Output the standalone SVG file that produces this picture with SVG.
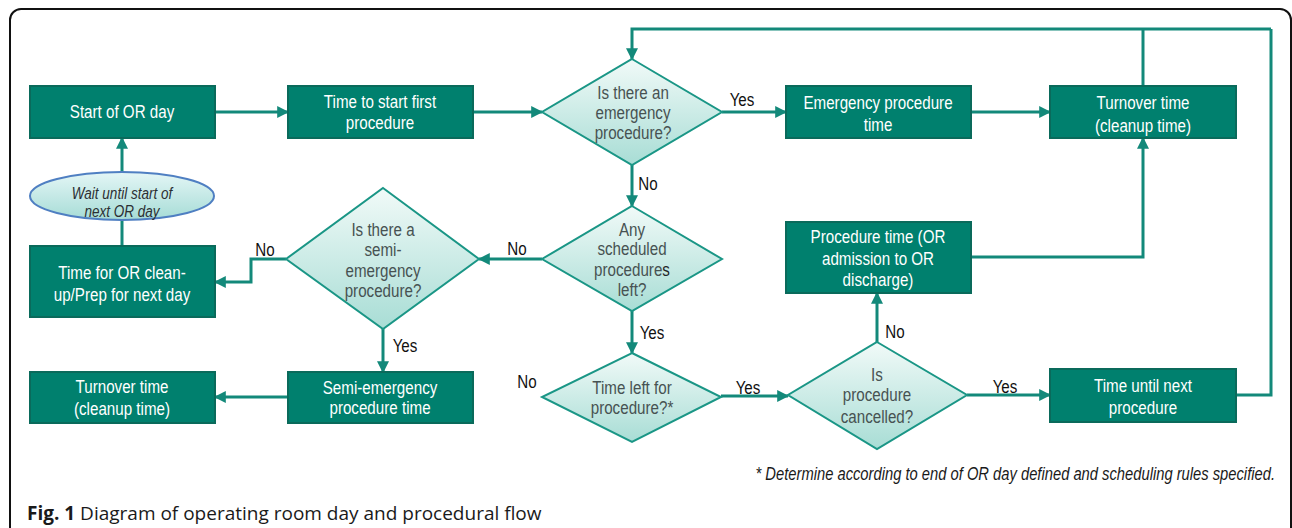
<svg xmlns="http://www.w3.org/2000/svg" width="1292" height="528" viewBox="0 0 1292 528">
<defs>
  <linearGradient id="dg" x1="0" y1="0" x2="0" y2="1">
    <stop offset="0" stop-color="#f1faf8"/>
    <stop offset="1" stop-color="#a8ddd5"/>
  </linearGradient>
  <linearGradient id="eg" x1="0" y1="0" x2="0" y2="1">
    <stop offset="0" stop-color="#e4f6f6"/>
    <stop offset="1" stop-color="#a6dcd6"/>
  </linearGradient>
  <marker id="ah" viewBox="0 0 10 10" refX="9" refY="5" markerWidth="4" markerHeight="4" orient="auto" markerUnits="strokeWidth">
    <path d="M0,0 L10,5 L0,10 z" fill="#13897a"/>
  </marker>
  <style>
    .box{fill:#00806e;stroke:#0a6a5b;stroke-width:2}
    .dia{fill:url(#dg);stroke:#1a9686;stroke-width:2}
    .ell{fill:url(#eg);stroke:#4f7fc2;stroke-width:2}
    text{font-family:"Liberation Sans","Arial",sans-serif}
    .bt{font-size:18.5px;fill:#ffffff;text-anchor:middle}
    .dt{font-size:18.5px;fill:#475252;text-anchor:middle}
    .et{font-size:16.5px;font-style:italic;fill:#2b2f33;text-anchor:middle}
    .lb{font-size:18.5px;fill:#111111;text-anchor:middle}
    .fn{font-size:17px;font-style:italic;fill:#1a1a1a;text-anchor:end}
    .cap{font-family:"Open Sans","Noto Sans",sans-serif;font-size:19px;fill:#1a1a1a}
    .c{fill:none;stroke:#13897a;stroke-width:3}
    .ca{fill:none;stroke:#13897a;stroke-width:3;marker-end:url(#ah)}
  </style>
</defs>
<rect width="1292" height="528" fill="#ffffff"/>
<rect x="10" y="9" width="1281" height="540" rx="11" fill="none" stroke="#111111" stroke-width="2"/>

<g id="connectors">
  <line class="ca" x1="215" y1="112" x2="288" y2="112"/>
  <line class="ca" x1="473" y1="112" x2="542" y2="112"/>
  <line class="ca" x1="722" y1="112" x2="786" y2="112"/>
  <line class="ca" x1="971" y1="112" x2="1050" y2="112"/>
  <polyline class="c" points="1143,86 1143,29"/>
  <polyline class="c" points="1237,395 1271,395 1271,29"/>
  <polyline class="ca" points="1271,29 632,29 632,59"/>
  <polyline class="ca" points="971,257 1143,257 1143,138"/>
  <line class="ca" x1="632" y1="165" x2="632" y2="206"/>
  <line class="ca" x1="542" y1="259" x2="479" y2="259"/>
  <polyline class="ca" points="286,259 251,259 251,282 215,282"/>
  <line class="ca" x1="383" y1="329" x2="383" y2="372"/>
  <line class="ca" x1="288" y1="397" x2="215" y2="397"/>
  <line class="c" x1="122" y1="246" x2="122" y2="220"/>
  <line class="ca" x1="122" y1="172" x2="122" y2="138"/>
  <line class="ca" x1="632" y1="311" x2="632" y2="353"/>
  <line class="ca" x1="721" y1="396" x2="788" y2="396"/>
  <line class="ca" x1="877" y1="342" x2="877" y2="293"/>
  <line class="ca" x1="967" y1="395" x2="1050" y2="395"/>
  <g transform="translate(742 0) scale(0.82 1)"><text class="lb" x="0" y="106">Yes</text></g>
  <g transform="translate(648 0) scale(0.82 1)"><text class="lb" x="0" y="190">No</text></g>
  <g transform="translate(517 0) scale(0.82 1)"><text class="lb" x="0" y="255">No</text></g>
  <g transform="translate(265 0) scale(0.82 1)"><text class="lb" x="0" y="256">No</text></g>
  <g transform="translate(405 0) scale(0.82 1)"><text class="lb" x="0" y="352">Yes</text></g>
  <g transform="translate(652 0) scale(0.82 1)"><text class="lb" x="0" y="339">Yes</text></g>
  <g transform="translate(527 0) scale(0.82 1)"><text class="lb" x="0" y="388">No</text></g>
  <g transform="translate(748 0) scale(0.82 1)"><text class="lb" x="0" y="394">Yes</text></g>
  <g transform="translate(895 0) scale(0.82 1)"><text class="lb" x="0" y="338">No</text></g>
  <g transform="translate(1005 0) scale(0.82 1)"><text class="lb" x="0" y="393">Yes</text></g>
</g>

<g id="start">
  <rect class="box" x="30" y="86" width="185" height="52"/>
  <g transform="translate(122 0) scale(0.82 1)">
    <text class="bt" x="0" y="118">Start of OR day</text>
  </g>
</g>
<g id="time-start">
  <rect class="box" x="288" y="86" width="185" height="52"/>
  <g transform="translate(380 0) scale(0.82 1)">
    <text class="bt" x="0" y="108">Time to start first</text>
    <text class="bt" x="0" y="129">procedure</text>
  </g>
</g>
<g id="q-emergency">
  <polygon class="dia" points="632,59 722,112 632,165 542,112"/>
  <g transform="translate(633 0) scale(0.82 1)">
    <text class="dt" x="0" y="99">Is there an</text>
    <text class="dt" x="0" y="119">emergency</text>
    <text class="dt" x="0" y="139">procedure?</text>
  </g>
</g>
<g id="emergency-time">
  <rect class="box" x="786" y="86" width="185" height="52"/>
  <g transform="translate(878 0) scale(0.82 1)">
    <text class="bt" x="0" y="109">Emergency procedure</text>
    <text class="bt" x="0" y="131">time</text>
  </g>
</g>
<g id="turnover-top">
  <rect class="box" x="1050" y="86" width="186" height="52"/>
  <g transform="translate(1143 0) scale(0.82 1)">
    <text class="bt" x="0" y="109">Turnover time</text>
    <text class="bt" x="0" y="132">(cleanup time)</text>
  </g>
</g>
<g id="wait">
  <ellipse class="ell" cx="122" cy="196" rx="92" ry="24"/>
  <g transform="translate(122 0) scale(0.82 1)">
    <text class="et" x="0" y="199">Wait until start of</text>
    <text class="et" x="0" y="217">next OR day</text>
  </g>
</g>
<g id="cleanup">
  <rect class="box" x="30" y="246" width="185" height="71"/>
  <g transform="translate(122 0) scale(0.82 1)">
    <text class="bt" x="0" y="279">Time for OR clean-</text>
    <text class="bt" x="0" y="301">up/Prep for next day</text>
  </g>
</g>
<g id="q-semi">
  <polygon class="dia" points="383,188 479,259 383,329 286,259"/>
  <g transform="translate(383 0) scale(0.82 1)">
    <text class="dt" x="0" y="236">Is there a</text>
    <text class="dt" x="0" y="256">semi-</text>
    <text class="dt" x="0" y="277">emergency</text>
    <text class="dt" x="0" y="297">procedure?</text>
  </g>
</g>
<g id="q-scheduled">
  <polygon class="dia" points="632,206 722,259 632,311 542,259"/>
  <g transform="translate(632 0) scale(0.82 1)">
    <text class="dt" x="0" y="236">Any</text>
    <text class="dt" x="0" y="255">scheduled</text>
    <text class="dt" x="0" y="276">procedure<tspan fill="#1f2626">s</tspan></text>
    <text class="dt" x="0" y="296">left?</text>
  </g>
</g>
<g id="procedure-time">
  <rect class="box" x="786" y="222" width="185" height="71"/>
  <g transform="translate(878 0) scale(0.82 1)">
    <text class="bt" x="0" y="243">Procedure time (OR</text>
    <text class="bt" x="0" y="265">admission to OR</text>
    <text class="bt" x="0" y="286">discharge)</text>
  </g>
</g>
<g id="turnover-bottom">
  <rect class="box" x="30" y="372" width="185" height="51"/>
  <g transform="translate(122 0) scale(0.82 1)">
    <text class="bt" x="0" y="393">Turnover time</text>
    <text class="bt" x="0" y="415">(cleanup time)</text>
  </g>
</g>
<g id="semi-time">
  <rect class="box" x="288" y="372" width="185" height="51"/>
  <g transform="translate(380 0) scale(0.82 1)">
    <text class="bt" x="0" y="394">Semi-emergency</text>
    <text class="bt" x="0" y="414">procedure time</text>
  </g>
</g>
<g id="q-time-left">
  <polygon class="dia" points="632,353 721,397 632,442 542,397"/>
  <g transform="translate(632 0) scale(0.82 1)">
    <text class="dt" x="0" y="394">Time left for</text>
    <text class="dt" x="0" y="414">procedure?*</text>
  </g>
</g>
<g id="q-cancelled">
  <polygon class="dia" points="877,342 967,395 877,449 788,395"/>
  <g transform="translate(877 0) scale(0.82 1)">
    <text class="dt" x="0" y="381">Is</text>
    <text class="dt" x="0" y="401">procedure</text>
    <text class="dt" x="0" y="423">cancelled?</text>
  </g>
</g>
<g id="time-next">
  <rect class="box" x="1050" y="369" width="186" height="53"/>
  <g transform="translate(1143 0) scale(0.82 1)">
    <text class="bt" x="0" y="392">Time until next</text>
    <text class="bt" x="0" y="414">procedure</text>
  </g>
</g>

<g transform="translate(1275 0) scale(0.82 1)">
  <text class="fn" x="0" y="480" style="font-size:18px">* Determine according to end of OR day defined and scheduling rules specified.</text>
</g>
<text class="cap" x="27" y="520"><tspan font-weight="bold">Fig. 1</tspan> Diagram of operating room day and procedural flow</text>
</svg>
